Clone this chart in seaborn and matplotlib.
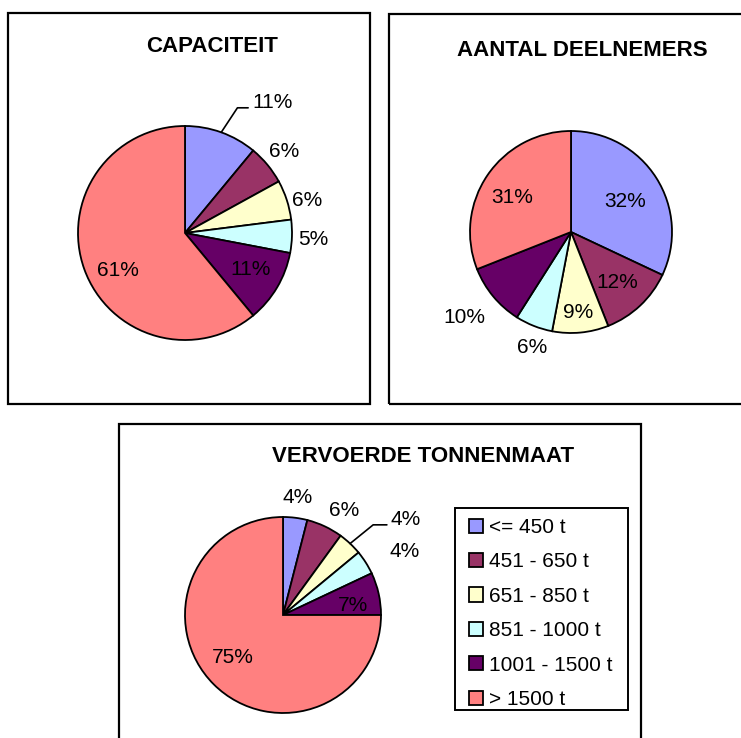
import numpy as np
import matplotlib
matplotlib.use("Agg")
import matplotlib.pyplot as plt
from matplotlib.patches import Rectangle, Patch
import seaborn as sns

# --- data ---
categories = ["<= 450 t", "451 - 650 t", "651 - 850 t", "851 - 1000 t", "1001 - 1500 t", "> 1500 t"]
capaciteit = [11, 6, 6, 5, 11, 61]
deelnemers = [32, 12, 9, 6, 10, 31]
tonnenmaat = [4, 6, 4, 4, 7, 75]
titles = ["CAPACITEIT", "AANTAL DEELNEMERS", "VERVOERDE TONNENMAAT"]

# Excel-achtige standaardkleuren
colors = sns.color_palette(["#9999FF", "#993366", "#FFFFCC", "#CCFFFF", "#660066", "#FF8080"])

sns.set_theme(style="white")
plt.rcParams["font.family"] = ["Liberation Sans", "DejaVu Sans"]
plt.rcParams["text.color"] = "black"

W, H = 741, 738
fig = plt.figure(figsize=(W / 100, H / 100), dpi=100)
fig.patch.set_facecolor("white")


def px_rect(x0, y0, x1, y1, lw):
    # rechthoek in pixelcoördinaten (y van boven) naar figuurcoördinaten
    return Rectangle((x0 / W, 1 - y1 / H), (x1 - x0) / W, (y1 - y0) / H,
                     transform=fig.transFigure, fill=False,
                     edgecolor="black", lw=lw, zorder=0)


# --- kaders ---
boxes = [(8, 13, 370, 404), (389, 14, 770, 404), (119, 424, 641, 770)]
for b in boxes:
    fig.patches.append(px_rect(*b, lw=1.6))
# kader van de legenda
fig.patches.append(px_rect(455, 508, 628, 710, lw=1.4))

# --- layout per taart: middelpunt, straal (px), titelpositie ---
pies = [
    dict(vals=capaciteit, cx=185, cy=233, r=107, tx=212, ty=46,
         lr=[None, 1.20, 1.18, 1.20, 0.70, 0.72], da=[0, 0, -3, -1, 1, 9],
         leader=0, knee=(0.49, 1.17, 0.59)),
    dict(vals=deelnemers, cx=571, cy=232, r=101, tx=582, ty=51,
         lr=[0.61, 0.68, 0.80, 1.21, 1.35, 0.67], da=[-3, -1, 0, 3, -1, 4],
         leader=None, knee=None),
    dict(vals=tonnenmaat, cx=283, cy=615, r=98, tx=423, ty=457,
         lr=[1.21, 1.23, None, 1.40, 0.72, 0.67], da=[0, -5, 0, -5, -5, -5],
         leader=2, knee=(0.92, 0.92, 1.06)),
]

pad = 1.7
for i, p in enumerate(pies):
    cx, cy, r = p["cx"], p["cy"], p["r"]
    ax = fig.add_axes([(cx - pad * r) / W, 1 - (cy + pad * r) / H,
                       2 * pad * r / W, 2 * pad * r / H])
    wedges, _ = ax.pie(p["vals"], colors=colors, startangle=90, counterclock=False,
                       wedgeprops=dict(edgecolor="black", linewidth=1.3))
    ax.set_xlim(-pad, pad)
    ax.set_ylim(-pad, pad)
    ax.set_aspect("equal")
    ax.axis("off")

    for j, w in enumerate(wedges):
        mid = np.deg2rad((w.theta1 + w.theta2) / 2)
        txt = f"{p['vals'][j]}%"
        if j == p["leader"]:
            # label met verbindingslijn
            x0, y0 = np.cos(mid), np.sin(mid)
            kx, ky, ex = p["knee"]
            ax.plot([x0, kx, ex], [y0, ky, ky], color="black", lw=1.2, clip_on=False)
            ax.text(ex + 0.04, ky + 0.05, txt, ha="left", va="center", fontsize=15,
                    color="black")
            continue
        a = mid + np.deg2rad(p["da"][j])
        d = p["lr"][j]
        ax.text(d * np.cos(a), d * np.sin(a), txt, ha="center", va="center",
                fontsize=15, color="black")

    fig.text(p["tx"] / W, 1 - p["ty"] / H, titles[i], ha="center", va="center",
             fontsize=16, fontweight="bold", color="black")

# --- legenda (zonder eigen kader) ---
handles = [Patch(facecolor=c, edgecolor="black", linewidth=1.3) for c in colors]
leg = fig.legend(handles, categories, loc="upper left",
                 bbox_to_anchor=(469 / W, 1 - 518 / H), bbox_transform=fig.transFigure,
                 frameon=False, fontsize=15, handlelength=0.67,
                 handleheight=0.67, handletextpad=0.29, labelspacing=0.74,
                 borderpad=0, borderaxespad=0)
for t in leg.get_texts():
    t.set_color("black")

fig.savefig("out.png", dpi=100, facecolor="white")
